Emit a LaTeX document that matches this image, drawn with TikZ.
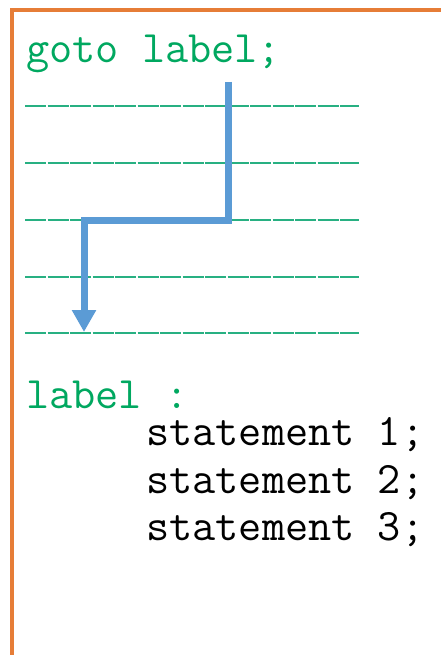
\documentclass[tikz,border=0pt]{standalone}
\usepackage{xcolor}
\usepackage{tikz}
\usetikzlibrary{arrows.meta}

\definecolor{codegreen}{RGB}{0,168,96}
\definecolor{rulegreen}{RGB}{40,176,130}
\definecolor{flowblue}{RGB}{91,155,213}
\definecolor{frameorange}{RGB}{230,125,55}

\tikzset{
	code/.style={anchor=base west, inner sep=0pt, font=\fontsize{45}{52}\selectfont\ttfamily},
	keyword/.style={code, text=codegreen},
	rule/.style={draw=rulegreen, line width=1.4pt, dash pattern=on 21pt off 1.5pt},
	flow/.style={draw=flowblue, line width=7pt, -{Triangle[width=23pt,length=22pt]}},
}

\begin{document}
\begin{tikzpicture}[x=1pt, y=-1pt]
		\useasboundingbox (0,0) rectangle (440,655);
		\fill[white] (0,0) rectangle (440,655);
		% frame
		\draw[frameorange, line width=4.5pt] (12,10) rectangle (470,680);
		% code
		\node[keyword] (g1) at (26,63) {goto label;};
		\node[keyword] (l1) at (26,408) {label :};
		\node[code] (s1) at (146,445) {statement 1;};
		\node[code] (s2) at (146,493) {statement 2;};
		\node[code] (s3) at (146,540) {statement 3;};
		% skipped lines
		\foreach \y in {106,163,220,277,333}
			\draw[rule] (25,\y) -- (359,\y);
		% jump
		\coordinate (a0) at (228,82);
		\coordinate (a1) at (84,220);
		\coordinate (a2) at (84,332);
		\draw[flow] (a0) |- (a1) -- (a2);
	\end{tikzpicture}
\end{document}
